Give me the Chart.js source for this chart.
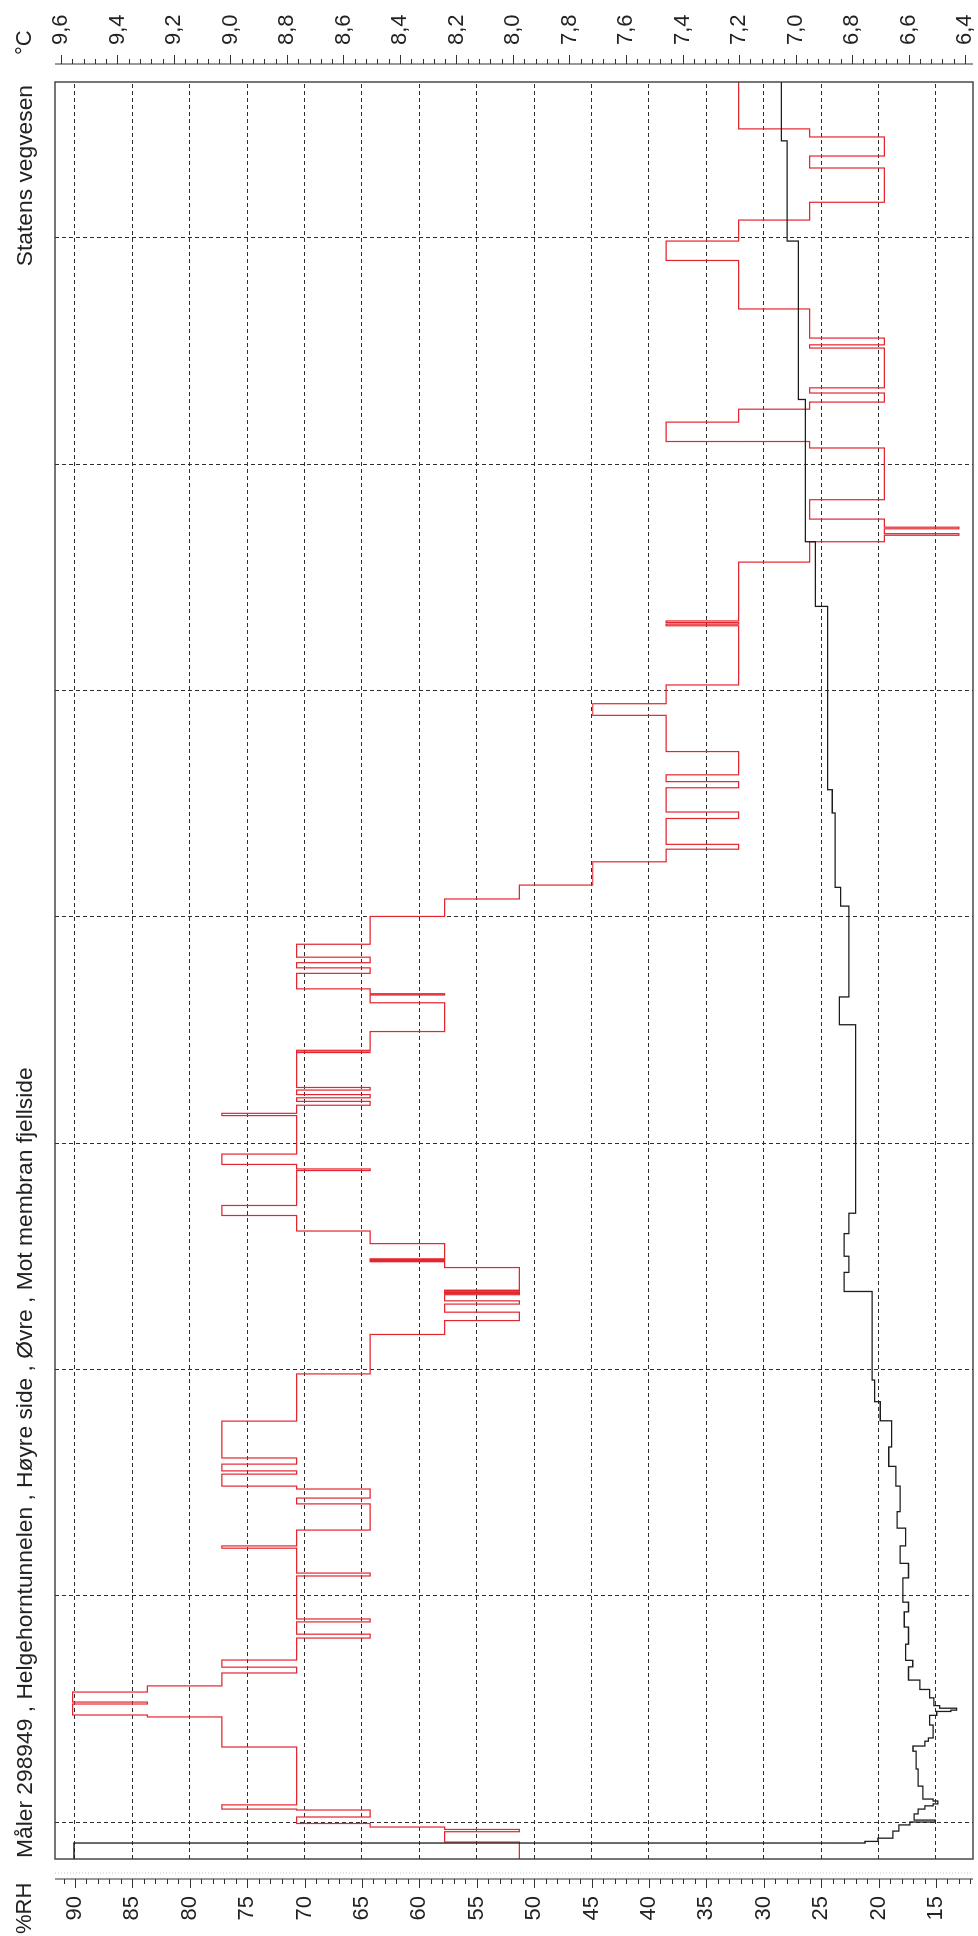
<!DOCTYPE html>
<html>
<head>
<meta charset="utf-8">
<title>Måler 298949 – Helgehorntunnelen</title>
<script src="https://cdn.jsdelivr.net/npm/chart.js@4"></script>
<style>
  html, body { margin: 0; padding: 0; background: #fff; overflow: hidden; }
  body { width: 978px; height: 1936px; position: relative; }
  /* the chart is laid out landscape and turned a quarter turn anticlockwise */
  #page { position: absolute; left: 0; top: 0; width: 1936px; height: 978px;
          transform-origin: 0 0; transform: translate(0, 1936px) rotate(-90deg); background: #fff; }
  #chart { position: absolute; left: 0; top: 0; }
  .lbl { position: absolute; white-space: nowrap; color: #222;
         font-family: "Liberation Sans", Arial, Helvetica, sans-serif; }
  #unitRH { left: 2px; top: 13.4px; font-size: 22px; line-height: 22px; }
  #title  { left: 78px; top: 12.6px; font-size: 22.8px; line-height: 23px; }
  #org    { right: 85px; top: 12.6px; font-size: 22.8px; line-height: 23px; }
  #unitC  { left: 1881px; top: 13.4px; font-size: 22px; line-height: 22px; }
</style>
</head>
<body>
<div id="page">
  <canvas id="chart" width="1936" height="978"></canvas>
  <div class="lbl" id="unitRH">%RH</div>
  <div class="lbl" id="title">Måler 298949 , Helgehorntunnelen , Høyre side , Øvre , Mot membran fjellside</div>
  <div class="lbl" id="org">Statens vegvesen</div>
  <div class="lbl" id="unitC">°C</div>
</div>
<script>
// ---- time axis (days from the first weekly line) ----
const dayStart = -1.144;
const dayEnd = 53.82;
const weekLines = [0, 7, 14, 21, 28, 35, 42, 49];

// ---- relative humidity, %RH (value holds from its day until the next entry) ----
const rhDays = [
  -1.144, -0.62, -0.30, -0.23, -0.155, -0.046, 0.155, 0.371, 0.40, 0.53,
  2.32, 3.25, 3.31, 3.65, 3.71, 4.02, 4.21, 4.61, 4.79, 5.01,
  5.69, 5.81, 6.19, 6.28, 7.61, 7.70, 8.47, 8.54, 9.03, 9.84,
  10.02, 10.30, 10.39, 10.76, 10.86, 11.07, 11.26, 12.40, 13.86, 15.08,
  15.51, 15.77, 16.02, 16.12, 16.31, 16.35, 16.38, 16.42, 16.45, 17.15,
  17.33, 17.36, 17.39, 17.42, 17.89, 18.28, 18.76, 19.07, 20.15, 20.20,
  20.34, 20.66, 21.85, 21.92, 22.17, 22.29, 22.40, 22.50, 22.64, 22.72,
  23.80, 23.82, 23.87, 24.45, 25.34, 25.58, 25.62, 25.77, 26.25, 26.42,
  26.58, 26.75, 27.15, 28.01, 28.55, 28.98, 29.70, 30.09, 30.24, 31.04,
  31.24, 31.99, 32.18, 32.39, 33.11, 34.23, 34.59, 35.17, 37.00, 37.05,
  37.10, 37.15, 38.97, 39.60, 39.80, 39.85, 40.00, 40.05, 40.30, 40.90,
  42.50, 42.70, 43.30, 43.70, 43.92, 44.20, 44.36, 45.59, 45.69, 45.90,
  46.80, 48.30, 48.90, 49.55, 50.10, 51.16, 51.53, 52.12, 52.37
];
const rhValues = [
  51.3, 57.8, 51.3, 57.8, 64.3, 70.7, 64.3, 70.7, 77.2, 70.7,
  77.2, 83.7, 90.2, 83.7, 90.2, 83.7, 77.2, 70.7, 77.2, 70.7,
  64.3, 70.7, 64.3, 70.7, 64.3, 70.7, 77.2, 70.7, 64.3, 70.7,
  64.3, 70.7, 77.2, 70.7, 77.2, 70.7, 77.2, 70.7, 64.3, 57.8,
  51.3, 57.8, 51.3, 57.8, 51.3, 57.8, 51.3, 57.8, 51.3, 57.8,
  64.3, 57.8, 64.3, 57.8, 64.3, 70.7, 77.2, 70.7, 64.3, 70.7,
  77.2, 70.7, 77.2, 70.7, 64.3, 70.7, 64.3, 70.7, 64.3, 70.7,
  64.3, 70.7, 64.3, 57.8, 64.3, 57.8, 64.3, 70.7, 64.3, 70.7,
  64.3, 70.7, 64.3, 57.8, 51.3, 44.9, 38.5, 32.2, 38.5, 32.2,
  38.5, 32.2, 38.5, 32.2, 38.5, 44.9, 38.5, 32.2, 38.5, 32.2,
  38.5, 32.2, 26.0, 19.5, 13.0, 19.5, 13.0, 19.5, 26.0, 19.5,
  26.0, 38.5, 32.2, 26.0, 19.5, 26.0, 19.5, 26.0, 19.5, 26.0,
  32.2, 38.5, 32.2, 26.0, 19.5, 26.0, 19.5, 26.0, 32.2
];

// ---- temperature, °C ----
const tempDays = [
  -1.144, -0.65, -0.60, -0.50, -0.28, -0.09, 0.00, 0.06, 0.25, 0.40,
  0.50, 0.56, 0.65, 0.71, 1.11, 1.64, 2.19, 2.35, 2.50, 2.60,
  3.00, 3.30, 3.42, 3.46, 3.52, 3.60, 3.84, 4.10, 4.39, 4.80,
  5.00, 5.50, 6.03, 6.50, 6.80, 7.55, 8.00, 8.54, 9.09, 9.60,
  10.39, 11.00, 11.60, 12.41, 13.00, 13.67, 16.41, 17.00, 17.50, 18.20,
  18.83, 24.66, 25.52, 28.33, 28.91, 31.21, 31.93, 37.60, 39.60, 44.00,
  48.90, 52.00
];
const tempValues = [
  9.554, 6.754, 6.708, 6.655, 6.634, 6.595, 6.506, 6.580, 6.566, 6.542,
  6.513, 6.496, 6.513, 6.549, 6.566, 6.573, 6.584, 6.542, 6.530, 6.513,
  6.525, 6.500, 6.450, 6.430, 6.490, 6.510, 6.525, 6.560, 6.600, 6.585,
  6.610, 6.600, 6.615, 6.600, 6.620, 6.600, 6.630, 6.610, 6.640, 6.630,
  6.645, 6.670, 6.660, 6.700, 6.720, 6.729, 6.828, 6.811, 6.828, 6.811,
  6.787, 6.845, 6.811, 6.840, 6.860, 6.870, 6.886, 6.930, 6.965, 6.990,
  7.030, 7.050
];

// ---- value axes ----
const rhRange = [11.777, 91.742];
const rhLabelled = [15, 20, 25, 30, 35, 40, 45, 50, 55, 60, 65, 70, 75, 80, 85, 90];
const tempRange = [6.3717, 9.6212];
const tempLabelled = [6.4, 6.6, 6.8, 7.0, 7.2, 7.4, 7.6, 7.8, 8.0, 8.2, 8.4, 8.6, 8.8, 9.0, 9.2, 9.4, 9.6];

// ---- look ----
const RED = '#e3262f';
const INK = '#1c1c1c';
const GRID = '#2e2e2e';
const FONT = '"Liberation Sans", Arial, Helvetica, sans-serif';
const AXIS_GAP = 20;      // separate tick axes stand off from the frame
const MAJOR_TICK = 9;
const MINOR_TICK = 5;

// step series: each value lasts until the next day in the list; close at the right edge
function stepPoints(days, values) {
  const pts = days.map((d, i) => ({ x: d, y: values[i] }));
  pts.push({ x: dayEnd, y: values[values.length - 1] });
  return pts;
}

const fixedTicks = list => scale => { scale.ticks = list.map(v => ({ value: v })); };

// frame round the plot and the free-standing tick axes with minor ticks
const framePlugin = {
  id: 'frameAndAxes',
  afterDraw(chart) {
    const { ctx, chartArea: a } = chart;
    const rh = chart.scales.rh, tc = chart.scales.temp;
    ctx.save();
    ctx.strokeStyle = '#3c3c3c';
    ctx.lineWidth = 1.4;
    ctx.strokeRect(a.left, a.top, a.right - a.left, a.bottom - a.top);

    ctx.lineWidth = 1;
    ctx.strokeStyle = '#333';
    // %RH axis
    const bx = a.left - AXIS_GAP;
    ctx.beginPath();
    ctx.moveTo(bx, a.top); ctx.lineTo(bx, a.bottom);
    for (let v = Math.ceil(rhRange[0]); v <= Math.floor(rhRange[1]); v++) {
      const y = Math.round(rh.getPixelForValue(v)) + 0.5;
      const len = v % 5 === 0 ? MAJOR_TICK : MINOR_TICK;
      ctx.moveTo(bx, y); ctx.lineTo(bx - len, y);
    }
    ctx.stroke();
    // °C axis, ticks every 0.04
    const cx = a.right + AXIS_GAP - 2;
    ctx.beginPath();
    ctx.moveTo(cx, a.top); ctx.lineTo(cx, a.bottom);
    for (let k = Math.ceil(tempRange[0] / 0.04); k * 0.04 <= tempRange[1]; k++) {
      const y = Math.round(tc.getPixelForValue(k * 0.04)) + 0.5;
      const len = k % 5 === 0 ? MAJOR_TICK : MINOR_TICK;
      ctx.moveTo(cx, y); ctx.lineTo(cx + len, y);
    }
    ctx.stroke();
    // faint dotted guide beside the %RH axis
    ctx.strokeStyle = '#c8c8c8';
    ctx.setLineDash([1, 2]);
    ctx.beginPath();
    ctx.moveTo(bx + 6, a.top); ctx.lineTo(bx + 6, a.bottom);
    ctx.stroke();
    ctx.restore();
  }
};

new Chart(document.getElementById('chart'), {
  type: 'line',
  data: {
    datasets: [
      { label: '%RH', data: stepPoints(rhDays, rhValues), yAxisID: 'rh',
        borderColor: RED, borderWidth: 1.2, stepped: 'before', pointRadius: 0, fill: false, order: 2 },
      { label: '°C', data: stepPoints(tempDays, tempValues), yAxisID: 'temp',
        borderColor: INK, borderWidth: 1.3, stepped: 'before', pointRadius: 0, fill: false, order: 1 }
    ]
  },
  options: {
    responsive: false,
    animation: false,
    events: [],
    layout: { padding: { top: 55, bottom: 5, left: 0, right: 0 } },
    plugins: { legend: { display: false }, tooltip: { enabled: false }, title: { display: false } },
    scales: {
      x: {
        type: 'linear', min: dayStart, max: dayEnd,
        afterBuildTicks: fixedTicks(weekLines),
        ticks: { display: false, autoSkip: false },
        grid: { color: GRID, lineWidth: 1, drawTicks: false },
        border: { display: false, dash: [4, 3] },
        afterFit: s => { s.height = 0; s.paddingLeft = 0; s.paddingRight = 0; }
      },
      rh: {
        type: 'linear', position: 'left', min: rhRange[0], max: rhRange[1],
        afterBuildTicks: fixedTicks(rhLabelled),
        ticks: { autoSkip: false, padding: 37, color: '#222', font: { family: FONT, size: 22 },
                 callback: v => String(v) },
        grid: { color: GRID, lineWidth: 1, drawTicks: false },
        border: { display: false, dash: [4, 3] },
        afterFit: s => { s.width = 77; s.paddingTop = 0; s.paddingBottom = 0; }
      },
      temp: {
        type: 'linear', position: 'right', min: tempRange[0], max: tempRange[1],
        afterBuildTicks: fixedTicks(tempLabelled),
        ticks: { autoSkip: false, padding: 37, color: '#222', font: { family: FONT, size: 22 },
                 callback: v => v.toFixed(1).replace('.', ',') },
        grid: { display: false, drawTicks: false },
        border: { display: false },
        afterFit: s => { s.width = 82; s.paddingTop = 0; s.paddingBottom = 0; }
      }
    }
  },
  plugins: [framePlugin]
});
</script>
</body>
</html>
